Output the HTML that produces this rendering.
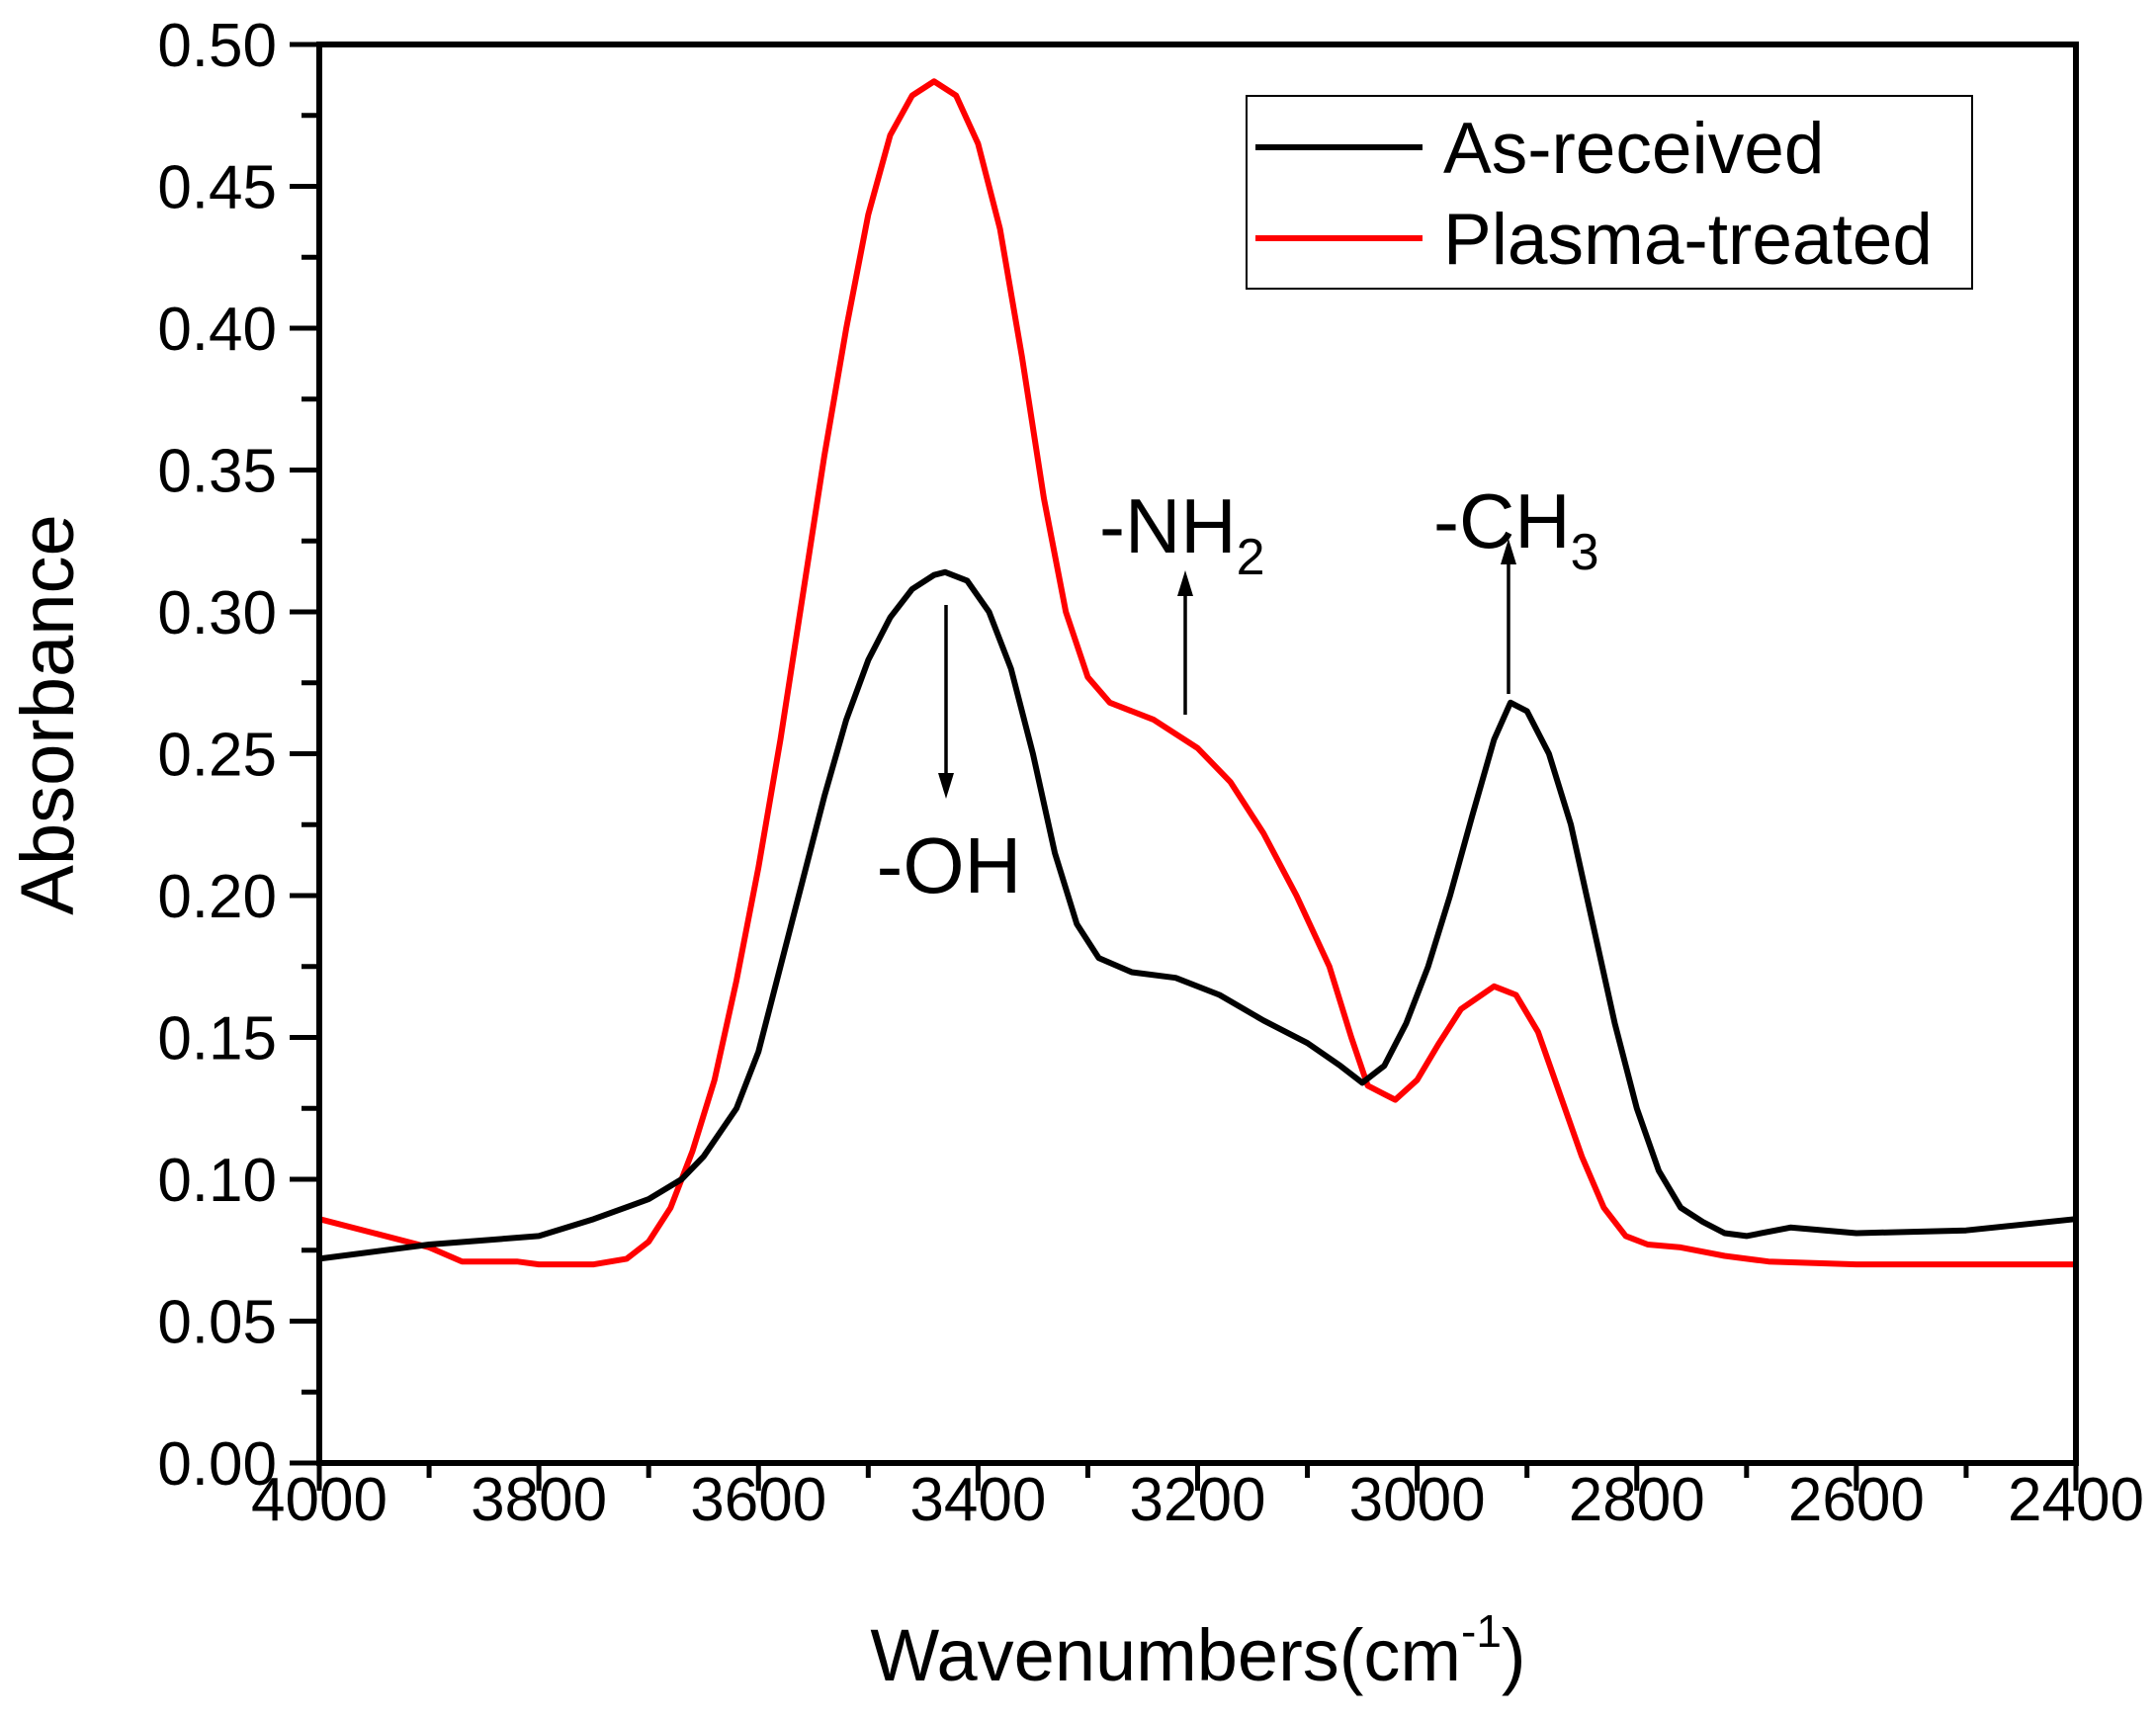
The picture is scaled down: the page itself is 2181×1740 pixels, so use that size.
<!DOCTYPE html>
<html><head><meta charset="utf-8"><style>
html,body{margin:0;padding:0;background:#fff;}
svg{display:block;font-family:"Liberation Sans",Arial,sans-serif;}
</style></head><body>
<svg id="chart" width="2181" height="1740" viewBox="0 0 2181 1740" xmlns="http://www.w3.org/2000/svg">
<g id="ticks"></g>
<g id="series"></g>
<rect x="323" y="45" width="1777" height="1435" fill="none" stroke="#000" stroke-width="6"/>
<g>
<rect x="1261" y="97" width="734" height="195" fill="#fff" stroke="#000" stroke-width="2"/>
<line x1="1270" y1="149" x2="1439" y2="149" stroke="#000" stroke-width="6"/>
<text x="1460" y="175" font-size="73">As-received</text>
<line x1="1270" y1="241" x2="1439" y2="241" stroke="#f00" stroke-width="6"/>
<text x="1460" y="267" font-size="73">Plasma-treated</text>
</g>
<text transform="translate(74,723) rotate(-90)" text-anchor="middle" font-size="76">Absorbance</text>
<text x="1212" y="1700" text-anchor="middle" font-size="74">Wavenumbers(cm<tspan font-size="46" dy="-34">-1</tspan><tspan dy="34">)</tspan></text>
<g>
<text x="960" y="903" text-anchor="middle" font-size="80">-OH</text>
<text x="1112" y="559" font-size="78">-NH<tspan font-size="52" dy="22">2</tspan></text>
<text x="1450" y="554" font-size="78">-CH<tspan font-size="52" dy="22">3</tspan></text>
<line x1="957" y1="612" x2="957" y2="790" stroke="#000" stroke-width="3.5"/>
<polygon points="949,782 965,782 957,808" fill="#000"/>
<line x1="1199" y1="723" x2="1199" y2="595" stroke="#000" stroke-width="3.5"/>
<polygon points="1191,603 1207,603 1199,577" fill="#000"/>
<line x1="1526" y1="702" x2="1526" y2="563" stroke="#000" stroke-width="3.5"/>
<polygon points="1518,571 1534,571 1526,545" fill="#000"/>
</g>
</svg>
<script>
const xTicks = [4000,3800,3600,3400,3200,3000,2800,2600,2400];
const yTicks = [0,0.05,0.10,0.15,0.20,0.25,0.30,0.35,0.40,0.45,0.50];
const wnAs = [4000,3900,3800,3750,3700,3670,3650,3620,3600,3580,3560,3540,3520,3500,3480,3460,3440,3430,3410,3390,3370,3350,3330,3310,3290,3260,3220,3180,3140,3100,3070,3050,3030,3010,2990,2970,2950,2930,2915,2900,2880,2860,2840,2820,2800,2780,2760,2740,2720,2700,2660,2600,2500,2400];
const absAs = [0.072,0.077,0.080,0.086,0.093,0.100,0.108,0.125,0.145,0.175,0.205,0.235,0.262,0.283,0.298,0.308,0.313,0.314,0.311,0.300,0.280,0.250,0.215,0.190,0.178,0.173,0.171,0.165,0.156,0.148,0.140,0.134,0.140,0.155,0.175,0.200,0.228,0.255,0.268,0.265,0.250,0.225,0.190,0.155,0.125,0.103,0.090,0.085,0.081,0.080,0.083,0.081,0.082,0.086];
const wnPl = [4000,3950,3900,3870,3820,3800,3750,3720,3700,3680,3660,3640,3620,3600,3580,3560,3540,3520,3500,3480,3460,3440,3420,3400,3380,3360,3340,3320,3300,3280,3240,3200,3170,3140,3110,3080,3060,3045,3020,3000,2980,2960,2930,2910,2890,2870,2850,2830,2810,2790,2760,2720,2680,2600,2400];
const absPl = [0.086,0.081,0.076,0.071,0.071,0.070,0.070,0.072,0.078,0.090,0.110,0.135,0.170,0.210,0.255,0.305,0.355,0.400,0.440,0.468,0.482,0.487,0.482,0.465,0.435,0.390,0.340,0.300,0.277,0.268,0.262,0.252,0.240,0.222,0.200,0.175,0.150,0.133,0.128,0.135,0.148,0.160,0.168,0.165,0.152,0.130,0.108,0.090,0.080,0.077,0.076,0.073,0.071,0.070,0.070];
const X0=323,X1=2100,Y0=1480,Y1=45;
function sx(w){return X0+(4000-w)/1600*(X1-X0);}
function sy(v){return Y0-v/0.5*(Y0-Y1);}
const NS="http://www.w3.org/2000/svg";
const tg=document.getElementById('ticks');
function mk(tag,attrs,parent){const e=document.createElementNS(NS,tag);for(const k in attrs)e.setAttribute(k,attrs[k]);parent.appendChild(e);return e;}
xTicks.forEach((t,i)=>{
  const l=mk('line',{x1:sx(t),x2:sx(t),y1:Y0,y2:Y0+28,stroke:'#000','stroke-width':5},tg);
  
  
  if(i<xTicks.length-1){const m=mk('line',{x1:sx(t-100),x2:sx(t-100),y1:Y0,y2:Y0+15,stroke:'#000','stroke-width':5},tg);
  
  }
  const tx=mk('text',{x:sx(t),y:1538,'text-anchor':'middle','font-size':62},tg);
  tx.textContent=t;
  
  
});
yTicks.forEach((t,i)=>{
  const l=mk('line',{x1:X0-30,x2:X0,y1:sy(t),y2:sy(t),stroke:'#000','stroke-width':5},tg);
  
  
  if(i<yTicks.length-1){const m=mk('line',{x1:X0-18,x2:X0,y1:sy(t+0.025),y2:sy(t+0.025),stroke:'#000','stroke-width':5},tg);
  
  }
  const tx=mk('text',{x:280,y:sy(t)+22,'text-anchor':'end','font-size':62},tg);
  tx.textContent=t.toFixed(2);
  
  
});
const sg=document.getElementById('series');
function line(wn,ab,color,name){
  const pts=wn.map((w,i)=>sx(w).toFixed(1)+','+sy(ab[i]).toFixed(1)).join(' ');
  const p=mk('polyline',{points:pts,fill:'none',stroke:color,'stroke-width':6,'stroke-linejoin':'round'},sg);
  
  
}
line(wnPl,absPl,'#f00','plasma-treated-line');
line(wnAs,absAs,'#000','as-received-line');
</script>
</body></html>
